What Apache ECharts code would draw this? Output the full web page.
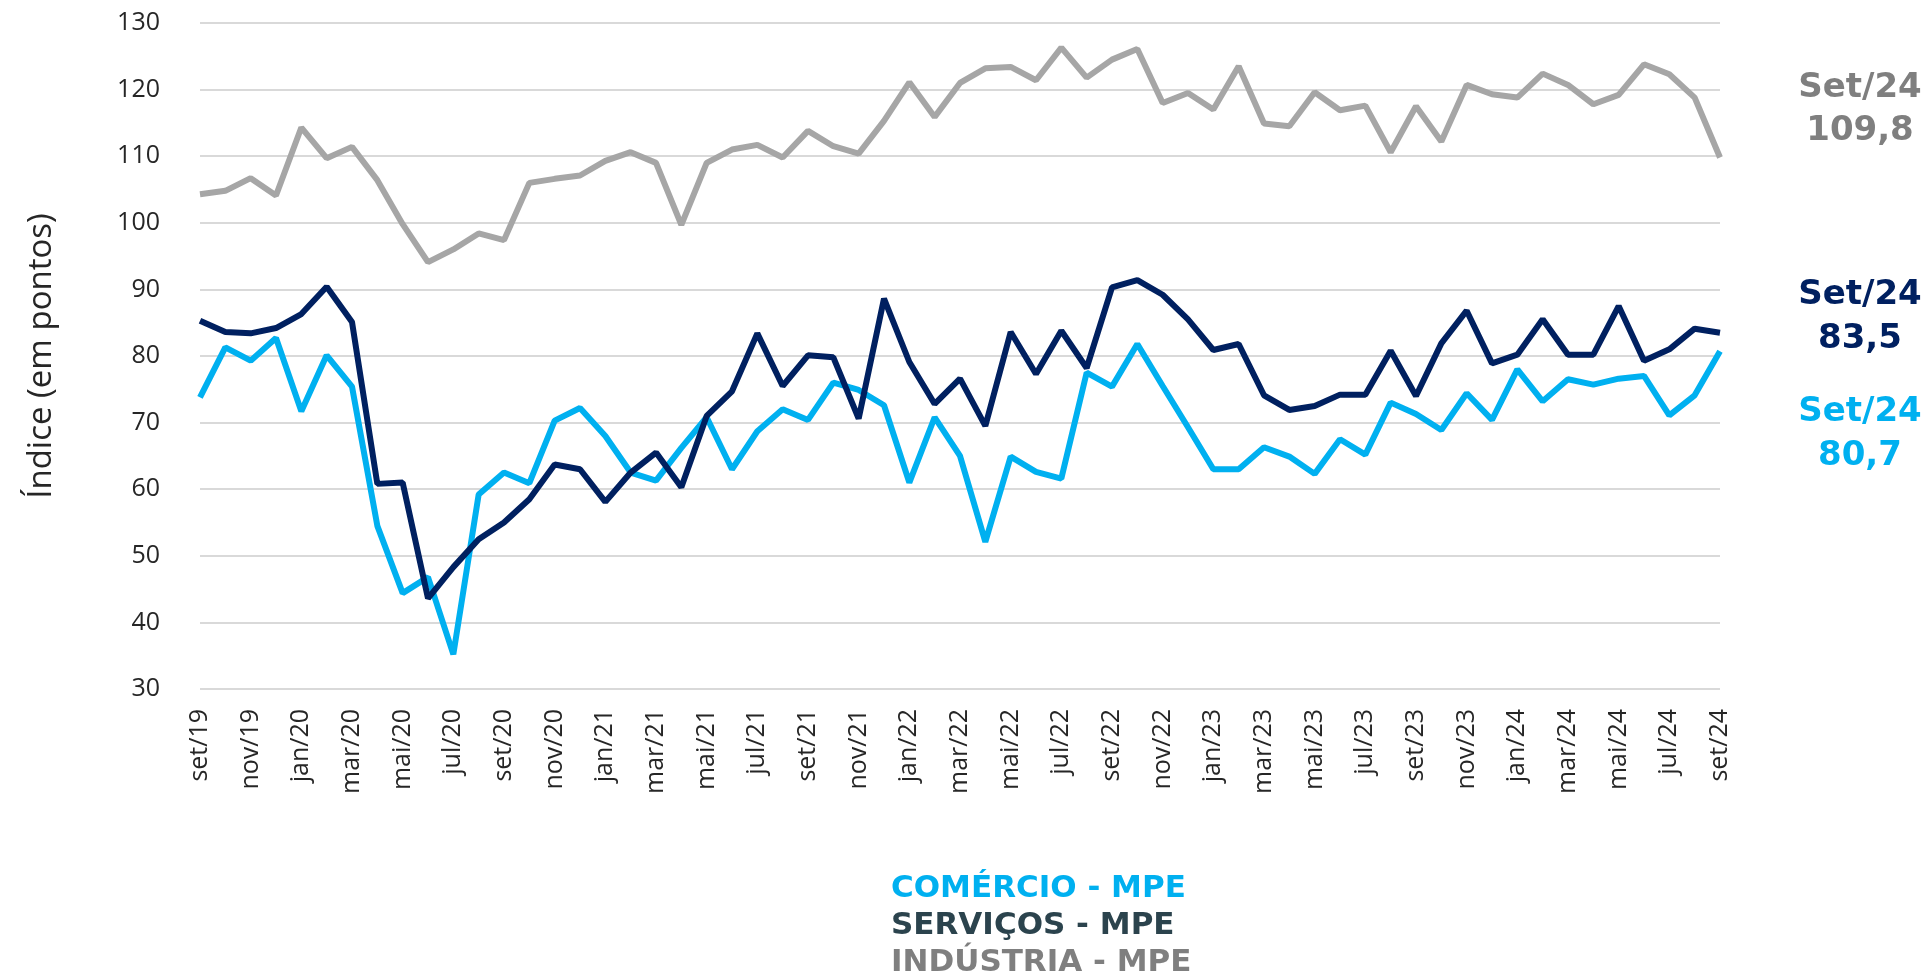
<!DOCTYPE html>
<html>
<head>
<meta charset="utf-8">
<script src="https://cdn.jsdelivr.net/npm/echarts@6/dist/echarts.min.js"></script>
<style>
  html, body { margin: 0; padding: 0; background: #fff; }
  #chart { width: 1932px; height: 976px; }
</style>
</head>
<body>
<div id="chart"></div>
<script>
// meses (set/19 a set/24)
const meses = [
  'set/19','out/19','nov/19','dez/19',
  'jan/20','fev/20','mar/20','abr/20','mai/20','jun/20','jul/20','ago/20','set/20','out/20','nov/20','dez/20',
  'jan/21','fev/21','mar/21','abr/21','mai/21','jun/21','jul/21','ago/21','set/21','out/21','nov/21','dez/21',
  'jan/22','fev/22','mar/22','abr/22','mai/22','jun/22','jul/22','ago/22','set/22','out/22','nov/22','dez/22',
  'jan/23','fev/23','mar/23','abr/23','mai/23','jun/23','jul/23','ago/23','set/23','out/23','nov/23','dez/23',
  'jan/24','fev/24','mar/24','abr/24','mai/24','jun/24','jul/24','ago/24','set/24'
];

const comercio = [
  73.8, 81.3, 79.3, 82.7, 71.7, 80.1, 75.4, 54.5, 44.4, 46.8, 35.2, 59.2, 62.5,
  60.9, 70.3, 72.2, 68.0, 62.5, 61.3, 66.2, 70.8, 63.0, 68.7, 72.0, 70.4, 76.0,
  74.9, 72.6, 61.0, 70.8, 65.0, 52.1, 64.9, 62.6, 61.6, 77.5, 75.4, 81.8, 75.5,
  69.3, 63.0, 63.0, 66.3, 64.9, 62.3, 67.5, 65.2, 73.0, 71.3, 68.9, 74.4, 70.4,
  78.0, 73.2, 76.5, 75.7, 76.6, 77.0, 71.1, 74.1, 80.7
];

const servicos = [
  85.3, 83.6, 83.4, 84.2, 86.3, 90.4, 85.1, 60.8, 61.0, 43.6, 48.3, 52.5, 55.0,
  58.5, 63.7, 63.0, 58.1, 62.5, 65.5, 60.3, 71.0, 74.7, 83.4, 75.5, 80.1, 79.8,
  70.6, 88.6, 79.1, 72.8, 76.6, 69.5, 83.6, 77.3, 83.8, 78.2, 90.3, 91.4, 89.2,
  85.5, 80.9, 81.8, 74.1, 71.9, 72.5, 74.2, 74.2, 80.8, 74.0, 81.9, 86.8, 78.9,
  80.2, 85.5, 80.2, 80.2, 87.5, 79.3, 81.0, 84.1, 83.5
];

const industria = [
  104.3, 104.8, 106.7, 104.1, 114.3, 109.7, 111.4, 106.4, 99.8, 94.1, 96.0, 98.4, 97.4,
  106.0, 106.6, 107.1, 109.3, 110.6, 109.0, 99.7, 109.0, 111.0, 111.7, 109.8, 113.8, 111.5,
  110.4, 115.3, 121.1, 115.9, 121.0, 123.2, 123.4, 121.4, 126.3, 121.8, 124.5, 126.1, 118.0,
  119.5, 117.0, 123.5, 114.9, 114.5, 119.6, 116.9, 117.6, 110.6, 117.5, 112.2, 120.7, 119.3,
  118.8, 122.4, 120.7, 117.8, 119.2, 123.8, 122.3, 118.8, 109.8
];

const nomes = ['COMÉRCIO - MPE', 'SERVIÇOS - MPE', 'INDÚSTRIA - MPE'];

const chart = echarts.init(document.getElementById('chart'));

const ultimoMes = meses[meses.length - 1];
const rotuloMes = ultimoMes.charAt(0).toUpperCase() + ultimoMes.slice(1);
function valorFinal(arr) {
  return arr[arr.length - 1].toFixed(1).replace('.', ',');
}
// rotulo de fim de serie (duas linhas centradas)
function rotulo(texto, y, cor) {
  return {
    type: 'text', x: 1860, y: y,
    style: {
      text: texto, fill: cor,
      font: 'bold 34px "DejaVu Sans"',
      textAlign: 'center', textVerticalAlign: 'middle',
      align: 'center', verticalAlign: 'middle'
    }
  };
}

const option = {
  animation: false,
  backgroundColor: '#ffffff',
  grid: { left: 200, right: 212, top: 23, bottom: 287 },
  legend: {
    orient: 'vertical',
    left: 886,
    top: 870,
    height: 120,
    padding: 0,
    itemGap: 0,
    itemWidth: 0,
    itemHeight: 0,
    icon: 'rect',
    selectedMode: false,
    textStyle: { fontFamily: 'DejaVu Sans', fontWeight: 'bold', fontSize: 31, lineHeight: 37 },
    data: [
      { name: nomes[0], textStyle: { color: '#00b0f0' } },
      { name: nomes[1], textStyle: { color: '#2b434d' } },
      { name: nomes[2], textStyle: { color: '#7f7f7f' } }
    ]
  },
  xAxis: {
    type: 'category',
    data: meses,
    boundaryGap: false,
    axisLine: { show: false },
    axisTick: { show: false },
    axisLabel: {
      interval: 1,
      rotate: 90,
      margin: 20,
      color: '#262626',
      fontFamily: 'Open Sans',
      fontSize: 25
    }
  },
  yAxis: {
    type: 'value',
    min: 30,
    max: 130,
    interval: 10,
    name: 'Índice (em pontos)',
    nameLocation: 'middle',
    nameGap: 142,
    nameTextStyle: { fontFamily: 'Open Sans', fontSize: 33, color: '#262626' },
    axisLine: { show: false },
    axisTick: { show: false },
    axisLabel: { margin: 40, color: '#262626', fontFamily: 'Open Sans', fontSize: 25 },
    splitLine: { lineStyle: { color: '#d9d9d9', width: 2 } }
  },
  series: [
    {
      name: nomes[0], type: 'line', data: comercio, symbol: 'none',
      lineStyle: { color: '#00b0f0', width: 6 }, itemStyle: { color: '#00b0f0' }
    },
    {
      name: nomes[1], type: 'line', data: servicos, symbol: 'none',
      lineStyle: { color: '#002060', width: 6 }, itemStyle: { color: '#002060' }
    },
    {
      name: nomes[2], type: 'line', data: industria, symbol: 'none',
      lineStyle: { color: '#a6a6a6', width: 6 }, itemStyle: { color: '#a6a6a6' }
    }
  ],
  graphic: [
    rotulo(rotuloMes, 88, '#7f7f7f'),
    rotulo(valorFinal(industria), 131, '#7f7f7f'),
    rotulo(rotuloMes, 295, '#002060'),
    rotulo(valorFinal(servicos), 339, '#002060'),
    rotulo(rotuloMes, 412, '#00b0f0'),
    rotulo(valorFinal(comercio), 456, '#00b0f0')
  ]
};

chart.setOption(option);
window.addEventListener('resize', function () {
  chart.resize();
});
</script>
</body>
</html>
